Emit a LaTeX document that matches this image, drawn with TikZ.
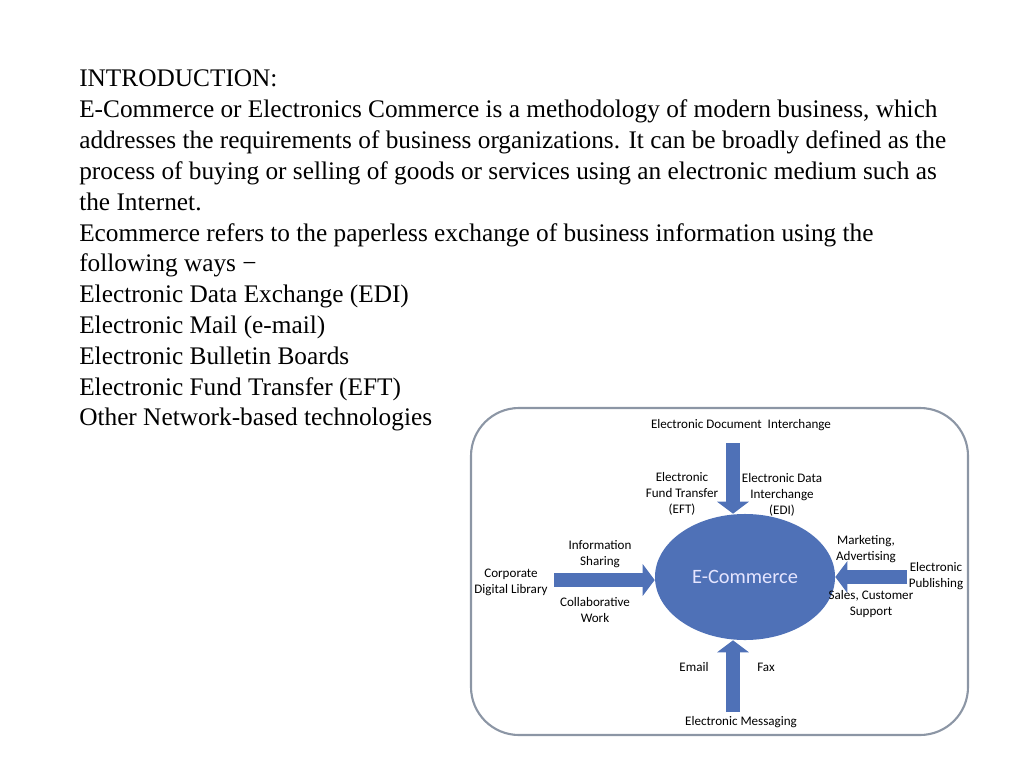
\documentclass[tikz,border=0pt]{standalone}
\usepackage{fontspec}
\setmainfont{Liberation Serif}
\newfontfamily\calib{Carlito}
\usetikzlibrary{arrows.meta,shapes.geometric}
\definecolor{ecblue}{RGB}{79,113,183}
\definecolor{frame}{RGB}{140,150,165}

\begin{document}
\begin{tikzpicture}[x=0.025cm,y=-0.025cm,
  line/.style={anchor=base west,inner sep=0pt,font=\fontsize{18}{20}\selectfont},
  lbl/.style={align=center,inner sep=0pt,font=\calib\fontsize{9.3}{11.5}\selectfont},
  barrow/.style={draw=ecblue,line width=0.36cm,-{Triangle[length=0.3cm,width=0.78cm]}}]
  \useasboundingbox (0,0) rectangle (1024,768);
  % introduction text
  \foreach [count=\i] \txt in {INTRODUCTION:,
    E-Commerce or Electronics Commerce is a methodology of modern business{,} which,
    addresses the requirements of business organizations. It can be broadly defined as the,
    process of buying or selling of goods or services using an electronic medium such as,
    the Internet.,
    Ecommerce refers to the paperless exchange of business information using the,
    following ways −,
    Electronic Data Exchange (EDI),
    Electronic Mail (e-mail),
    Electronic Bulletin Boards,
    Electronic Fund Transfer (EFT),
    Other Network-based technologies}
    \node[line] (t\i) at (79,{87+(\i-1)*30.8}) {\txt};
  % diagram
  \draw[frame,line width=1.5pt,rounded corners=1.2cm] (471,408) rectangle (968,735);
  \node[ellipse,fill=ecblue,minimum width=4.5cm,minimum height=3.15cm,
        text=blue!10,font=\calib\fontsize{14.5}{16}\selectfont] (ec) at (745,577) {E-Commerce};
  \coordinate (top) at (733,443);
  \coordinate (bot) at (733,712);
  \coordinate (lft) at (554,580);
  \coordinate (rgt) at (907,577);
  \draw[barrow] (top) -- (ec.north -| top);
  \draw[barrow] (bot) -- (ec.south -| bot);
  \draw[barrow] (lft) -- (ec.west |- lft);
  \draw[barrow] (rgt) -- (ec.east |- rgt);
  % labels
  \node[lbl] (edoc) at (741,425) {Electronic Document\ \ Interchange};
  \node[lbl] (eft) at (682,494) {Electronic\\Fund Transfer\\(EFT)};
  \node[lbl] (edi) at (782,495) {Electronic Data\\Interchange\\(EDI)};
  \node[lbl] (info) at (600,554) {Information\\Sharing};
  \node[lbl] (corp) at (511,582) {Corporate\\Digital Library};
  \node[lbl] (collab) at (595,610) {Collaborative\\Work};
  \node[lbl] (mkt) at (866,549) {Marketing,\\Advertising};
  \node[lbl] (epub) at (936,576) {Electronic\\Publishing};
  \node[lbl] (sales) at (871,604) {Sales, Customer\\Support};
  \node[lbl] (email) at (694,667) {Email};
  \node[lbl] (fax) at (766,667) {Fax};
  \node[lbl] (emsg) at (741,722) {Electronic Messaging};
\end{tikzpicture}
\end{document}
